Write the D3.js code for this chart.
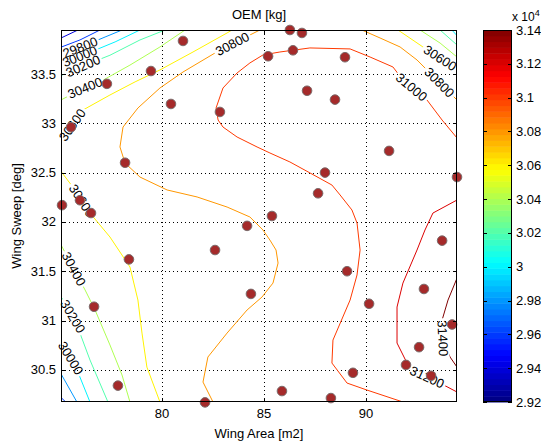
<!DOCTYPE html>
<html><head><meta charset="utf-8">
<script src="https://cdn.jsdelivr.net/npm/d3@7"></script>
<style>body{margin:0;background:#fff} text{font-family:"Liberation Sans",Arial,Helvetica,sans-serif;fill:#000}</style>
</head><body><svg id="c" width="541" height="446"></svg>
<script>
// ---------------- data ----------------
const xDomain = [75.05, 94.46];
const yDomain = [30.174, 33.946];
const xTicks = [80, 85, 90];
const yTicks = [30.5, 31, 31.5, 32, 32.5, 33, 33.5];
const cbTicks = [2.92, 2.94, 2.96, 2.98, 3, 3.02, 3.04, 3.06, 3.08, 3.1, 3.12, 3.14];
const cbDomain = [29200, 31400];

// sample points (Wing Area, Wing Sweep)
const sampleArea = [81.03,86.27,86.86,79.46,77.30,85.20,86.42,88.97,80.44,82.84,87.11,88.48,75.54,78.19,91.13,87.99,94.46,75.10,75.98,76.52,87.65,85.39,84.17,93.73,82.60,78.38,92.84,89.07,84.36,76.67,90.15,94.22,92.60,91.96,89.36,93.19,77.84,85.88,82.11,88.28];
const sampleSweep = [33.835,33.946,33.916,33.53,33.40,33.68,33.74,33.67,33.196,33.115,33.33,33.24,32.96,32.60,32.72,32.50,32.455,32.17,32.22,32.09,32.29,32.06,31.96,31.81,31.715,31.62,31.32,31.50,31.27,31.14,31.17,30.96,30.73,30.55,30.47,30.44,30.34,30.285,30.17,30.214];

// contour lines (level, path in data units)
const contourLines = [
  {level:29400, pts:[[74.9,33.85],[75.88,33.946],[76.0,33.96]]},
  {level:29600, pts:[[74.9,33.76],[75.98,33.845],[76.96,33.946],[77.1,33.96]]},
  {level:29600, pts:[[74.9,30.25],[75.3,30.17],[75.35,30.15]]},
  {level:29800, pts:[[74.9,33.68],[76.23,33.79],[77.21,33.875],[78.04,33.946],[78.2,33.96]]},
  {level:29800, pts:[[74.9,30.5],[75.0,30.478],[75.83,30.174],[75.9,30.15]]},
  {level:30000, pts:[[74.9,33.59],[76.47,33.72],[77.70,33.825],[78.92,33.946],[79.1,33.96]]},
  {level:30000, pts:[[74.9,30.82],[75.0,30.802],[75.74,30.549],[76.47,30.174],[76.5,30.15]]},
  {level:30000, pts:[[94.1,33.97],[94.5,33.88]]},
  {level:30200, pts:[[74.9,33.47],[76.23,33.59],[77.45,33.69],[78.92,33.845],[80.15,33.946],[80.3,33.96]]},
  {level:30200, pts:[[74.9,31.28],[75.0,31.259],[75.74,31.005],[76.47,30.6],[77.35,30.174],[77.4,30.15]]},
  {level:30200, pts:[[93.63,33.946],[94.46,33.794],[94.6,33.77]]},
  {level:30400, pts:[[74.9,33.22],[75.98,33.338],[76.96,33.42],[78.43,33.59],[79.90,33.774],[81.13,33.946],[81.2,33.96]]},
  {level:30400, pts:[[74.9,31.8],[75.0,31.787],[76.23,31.31],[76.72,31.107],[77.45,30.752],[78.04,30.448],[78.43,30.174],[78.5,30.15]]},
  {level:30400, pts:[[92.65,33.946],[93.63,33.814],[94.46,33.672],[94.6,33.65]]},
  {level:30600, pts:[[74.9,32.75],[75.0,32.78],[75.59,32.98],[76.13,33.135],[77.45,33.287],[78.68,33.42],[79.90,33.541],[81.52,33.723],[83.19,33.916],[83.43,33.946],[83.5,33.96]]},
  {level:30600, pts:[[74.9,32.55],[75.0,32.526],[75.74,32.324],[76.47,32.09],[77.45,31.847],[78.43,31.543],[78.82,31.208],[79.02,30.873],[79.26,30.528],[79.90,30.174],[79.95,30.15]]},
  {level:30600, pts:[[91.57,33.946],[92.79,33.774],[93.63,33.662],[94.46,33.541],[94.6,33.52]]},
  {level:30800, pts:[[84.9,33.96],[84.80,33.946],[83.82,33.845],[82.60,33.713],[81.03,33.520],[79.90,33.358],[78.82,33.155],[78.09,32.962],[77.94,32.760],[78.19,32.597],[78.92,32.455],[80.25,32.324],[81.72,32.253],[83.19,32.151],[84.31,32.050],[84.95,31.918],[85.29,31.816],[85.59,31.715],[85.69,31.583],[85.44,31.380],[84.90,31.238],[84.17,31.107],[83.19,30.873],[82.25,30.630],[82.01,30.376],[82.50,30.174],[82.55,30.15]]},
  {level:30800, pts:[[89.7,33.96],[89.80,33.946],[90.69,33.865],[91.67,33.774],[92.50,33.642],[93.48,33.439],[94.46,33.236],[94.6,33.2]]},
  {level:31000, pts:[[94.6,32.82],[94.46,32.851],[93.73,33.033],[92.99,33.236],[91.81,33.439],[91.32,33.571],[90.20,33.672],[89.22,33.754],[87.25,33.764],[85.78,33.723],[84.95,33.693],[84.31,33.612],[83.68,33.510],[82.99,33.358],[82.65,33.155],[82.75,33.033],[82.99,32.962],[83.68,32.861],[84.66,32.760],[85.29,32.699],[86.27,32.608],[87.25,32.497],[88.33,32.374],[88.73,32.273],[89.31,32.121],[89.56,31.989],[89.71,31.715],[89.56,31.462],[89.22,31.208],[88.38,30.802],[88.33,30.569],[89.07,30.366],[90.05,30.295],[91.81,30.174],[92.0,30.15]]},
  {level:31200, pts:[[94.6,32.24],[94.46,32.222],[93.28,32.090],[92.89,31.918],[92.50,31.715],[91.81,31.380],[91.52,31.137],[91.52,30.772],[92.01,30.569],[92.99,30.427],[93.63,30.366],[94.46,30.275],[94.6,30.26]]},
  {level:31400, pts:[[94.6,31.46],[94.46,31.43],[94.02,31.208],[93.73,31.005],[93.77,30.802],[94.12,30.630],[94.46,30.528],[94.6,30.5]]}
];

// inline contour labels (text, anchor near the line in data units)
const labelText = ["29800","30000","30200","30400","30600","30600","30400","30200","30000","30800","30600","30800","31000","31200","31400"];
const labelArea = [75.98,75.98,76.13,76.23,75.83,75.74,75.74,75.54,75.54,83.53,93.63,93.53,92.16,92.94,93.77];
const labelSweep = [33.774,33.672,33.58,33.358,32.95,32.17,31.53,31.03,30.62,33.774,33.662,33.40,33.35,30.40,30.82];
const labelLevel = [29800,30000,30200,30400,30600,30600,30400,30200,30000,30800,30600,30800,31000,31200,31400];

// ---------------- drawing ----------------
const W = 541, H = 446;
const L = 61, R = 457, T = 30, B = 402;
const svg = d3.select("#c");
const x = d3.scaleLinear().domain(xDomain).range([L, R]);
const y = d3.scaleLinear().domain(yDomain).range([B, T]);
const cScale = d3.scaleLinear().domain(cbDomain).range([0, 1]);

function jet(t){
  const cl = v => Math.max(0, Math.min(1, v));
  const r = cl(Math.min(4*t-1.5, -4*t+4.5));
  const g = cl(Math.min(4*t-0.5, -4*t+3.5));
  const b = cl(Math.min(4*t+0.5, -4*t+2.5));
  return d3.rgb(r*255, g*255, b*255).toString();
}

const defs = svg.append("defs");
defs.append("clipPath").attr("id","plotclip").append("rect")
  .attr("x",L).attr("y",T).attr("width",R-L).attr("height",B-T);

// grid
const grid = svg.append("g").attr("stroke","#000").attr("stroke-width",1).attr("stroke-dasharray","1,3");
xTicks.forEach(v => grid.append("line").attr("x1",Math.round(x(v))+0.5).attr("x2",Math.round(x(v))+0.5).attr("y1",T).attr("y2",B));
yTicks.forEach(v => grid.append("line").attr("y1",Math.round(y(v))+0.5).attr("y2",Math.round(y(v))+0.5).attr("x1",L).attr("x2",R));

// labels first (to build mask)
const line = d3.line().x(d=>x(d[0])).y(d=>y(d[1]));
const mask = defs.append("mask").attr("id","lblmask").attr("maskUnits","userSpaceOnUse")
  .attr("x",0).attr("y",0).attr("width",W).attr("height",H);
mask.append("rect").attr("x",0).attr("y",0).attr("width",W).attr("height",H).attr("fill","#fff");

const lblG = svg.append("g");
const placed = labelText.map((txt,i) => {
  const ax = x(labelArea[i]), ay = y(labelSweep[i]);
  let best = null;
  contourLines.filter(c => c.level === labelLevel[i]).forEach(c => {
    const p = c.pts.map(d => [x(d[0]), y(d[1])]);
    for (let k=0;k<p.length-1;k++){
      const [x1,y1]=p[k],[x2,y2]=p[k+1];
      const dx=x2-x1, dy=y2-y1, len2=dx*dx+dy*dy;
      let t = len2>0 ? ((ax-x1)*dx+(ay-y1)*dy)/len2 : 0;
      t = Math.max(0,Math.min(1,t));
      const px=x1+t*dx, py=y1+t*dy, d2=(px-ax)**2+(py-ay)**2;
      if(!best || d2<best.d2) best={d2,px,py,ang:Math.atan2(dy,dx)*180/Math.PI};
    }
  });
  let a = best.ang; if (a>90) a-=180; if (a<-90) a+=180;
  return {txt, px:best.px, py:best.py, ang:a};
});
placed.forEach(p => {
  const t = lblG.append("text").attr("transform",`translate(${p.px},${p.py}) rotate(${p.ang})`)
    .attr("text-anchor","middle").attr("dy","0.35em").attr("font-size","13px").text(p.txt);
  const w = t.node().getComputedTextLength();
  mask.append("rect").attr("x",-w/2-2).attr("y",-6).attr("width",w+4).attr("height",12)
    .attr("transform",`translate(${p.px},${p.py}) rotate(${p.ang})`).attr("fill","#000");
});

// contour lines
const cg = svg.insert("g", () => lblG.node()).attr("clip-path","url(#plotclip)");
cg.append("g").attr("mask","url(#lblmask)").selectAll("path").data(contourLines).join("path")
  .attr("d", d => line(d.pts)).attr("fill","none")
  .attr("stroke", d => jet(cScale(d.level))).attr("stroke-width",1);

// points
svg.append("g").selectAll("circle").data(sampleArea.map((a,i)=>[a,sampleSweep[i]])).join("circle")
  .attr("cx",d=>x(d[0])).attr("cy",d=>y(d[1])).attr("r",4.8)
  .attr("fill","#a52a2a").attr("stroke","#7a6a6a").attr("stroke-width",1);

// axes box
svg.append("rect").attr("x",L+0.5).attr("y",T+0.5).attr("width",R-L-1).attr("height",B-T-1)
  .attr("fill","none").attr("stroke","#000").attr("stroke-width",1);
const tk = svg.append("g").attr("stroke","#000").attr("stroke-width",1);
xTicks.forEach(v => {
  const px = Math.round(x(v))+0.5;
  tk.append("line").attr("x1",px).attr("x2",px).attr("y1",B).attr("y2",B-4);
  tk.append("line").attr("x1",px).attr("x2",px).attr("y1",T).attr("y2",T+4);
});
yTicks.forEach(v => {
  const py = Math.round(y(v))+0.5;
  tk.append("line").attr("y1",py).attr("y2",py).attr("x1",L).attr("x2",L+4);
  tk.append("line").attr("y1",py).attr("y2",py).attr("x1",R).attr("x2",R-4);
});
xTicks.forEach(v => svg.append("text").attr("x",x(v)).attr("y",B+16).attr("text-anchor","middle").attr("font-size","13px").text(v));
yTicks.forEach(v => svg.append("text").attr("x",L-5).attr("y",y(v)).attr("dy","0.35em").attr("text-anchor","end").attr("font-size","13px").text(v));

svg.append("text").attr("x",(L+R)/2).attr("y",19).attr("text-anchor","middle").attr("font-size","13px").text("OEM [kg]");
svg.append("text").attr("x",(L+R)/2).attr("y",438).attr("text-anchor","middle").attr("font-size","13px").text("Wing Area [m2]");
svg.append("text").attr("transform",`translate(21,${(T+B)/2}) rotate(-90)`).attr("text-anchor","middle").attr("font-size","13px").text("Wing Sweep [deg]");

// colorbar
const CL = 483, CR = 512;
const cy = d3.scaleLinear().domain(cbDomain).range([B, T]);
const nb = 64, step = (cbDomain[1]-cbDomain[0])/nb;
const bands = d3.range(nb).map(k => cbDomain[0]+k*step);
svg.append("g").selectAll("rect").data(bands).join("rect")
  .attr("x",CL).attr("width",CR-CL)
  .attr("y",d=>cy(d+step)).attr("height",d=>cy(d)-cy(d+step)+0.5)
  .attr("fill",d=>jet((k=> (k+0.5)/nb)((d-cbDomain[0])/step)));
svg.append("rect").attr("x",CL+0.5).attr("y",T+0.5).attr("width",CR-CL-1).attr("height",B-T-1)
  .attr("fill","none").attr("stroke","#000");
const ctk = svg.append("g").attr("stroke","#000");
cbTicks.forEach(v => {
  const py = Math.round(cy(v*10000))+0.5;
  ctk.append("line").attr("x1",CL).attr("x2",CL+4).attr("y1",py).attr("y2",py);
  ctk.append("line").attr("x1",CR).attr("x2",CR-4).attr("y1",py).attr("y2",py);
  svg.append("text").attr("x",CR+4).attr("y",cy(v*10000)).attr("dy","0.35em").attr("font-size","13px").text(v);
});
const ex = svg.append("text").attr("x",CR).attr("y",21).attr("font-size","12px");
ex.append("tspan").text("x 10");
ex.append("tspan").attr("dy",-5).attr("font-size","9px").text("4");
</script></body></html>
